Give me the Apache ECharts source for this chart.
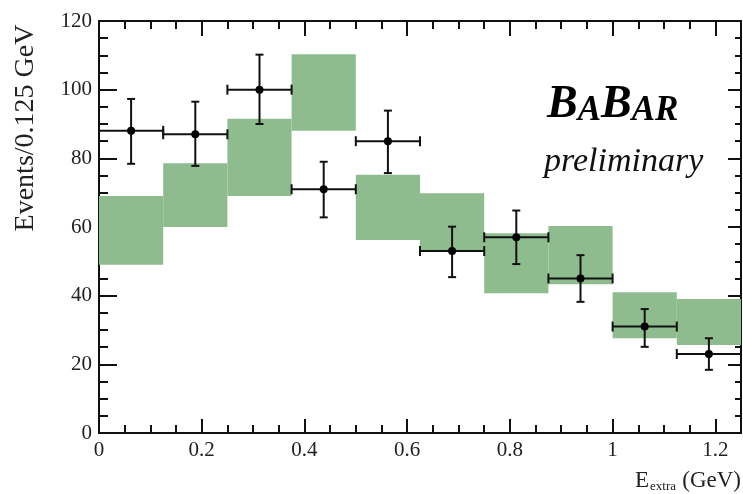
<!DOCTYPE html>
<html>
<head>
<meta charset="utf-8">
<script src="https://cdn.jsdelivr.net/npm/echarts@6/dist/echarts.min.js"></script>
<style>
  html, body { margin: 0; padding: 0; background: #fff; }
  #chart { width: 743px; height: 494px; }
</style>
</head>
<body>
<div id="chart"></div>
<script>
// bins of 0.125 GeV
const binLo = [0, 0.125, 0.25, 0.375, 0.5, 0.625, 0.75, 0.875, 1.0, 1.125];
const binHi = [0.125, 0.25, 0.375, 0.5, 0.625, 0.75, 0.875, 1.0, 1.125, 1.25];
// green band (expected background, min/max)
const bandLow = [49, 60, 69, 88, 56.2, 52.8, 40.7, 43.3, 27.6, 25.6];
const bandHigh = [69, 78.6, 91.5, 110.3, 75.2, 69.8, 58.2, 60.3, 41, 39];
// data points with errors
const pointY = [88, 87, 100, 71, 85, 53, 57, 45, 31, 23];
const errLow = [78.4, 77.8, 90, 62.8, 75.7, 45.4, 49.2, 38.2, 25.1, 18.4];
const errHigh = [97.3, 96.5, 110.2, 79, 93.9, 60.1, 64.8, 51.8, 36.1, 27.6];
const xTicks = ['0', '0.2', '0.4', '0.6', '0.8', '1', '1.2'];

const FONT = 'Liberation Serif';
const bandColor = '#8fbc8f';

const chart = echarts.init(document.getElementById('chart'));

const bandData = binLo.map((lo, i) => [lo, binHi[i], bandLow[i], bandHigh[i]]);
const pointData = binLo.map((lo, i) => [(lo + binHi[i]) / 2, pointY[i], errLow[i], errHigh[i], lo, binHi[i]]);

function renderBand(params, api) {
  const a = api.coord([api.value(0), api.value(3)]);
  const b = api.coord([api.value(1), api.value(2)]);
  return {
    type: 'rect',
    shape: { x: a[0], y: a[1], width: b[0] - a[0], height: b[1] - a[1] },
    style: { fill: bandColor },
  };
}

function renderPoint(params, api) {
  const c = api.coord([api.value(0), api.value(1)]);
  const top = api.coord([api.value(0), api.value(3)]);
  const bot = api.coord([api.value(0), api.value(2)]);
  const l = api.coord([api.value(4), api.value(1)]);
  const r = api.coord([api.value(5), api.value(1)]);
  const st = { stroke: '#111', lineWidth: 2 };
  const line = (x1, y1, x2, y2) => ({ type: 'line', shape: { x1, y1, x2, y2 }, style: st });
  return {
    type: 'group',
    children: [
      line(l[0], c[1], r[0], c[1]),
      line(c[0], top[1], c[0], bot[1]),
      line(l[0], c[1] - 5, l[0], c[1] + 5),
      line(r[0], c[1] - 5, r[0], c[1] + 5),
      line(c[0] - 4, top[1], c[0] + 4, top[1]),
      line(c[0] - 4, bot[1], c[0] + 4, bot[1]),
      { type: 'circle', shape: { cx: c[0], cy: c[1], r: 4 }, style: { fill: '#000' } },
    ],
  };
}

// onZero off, otherwise the mirror axes jump to the zero of the other axis
const axisLineStyle = { show: true, onZero: false, lineStyle: { color: '#111', width: 2 } };
const tickStyle = { color: '#111', width: 2 };

function xAxisDef(position, interval, len, labels) {
  return {
    type: 'value',
    position: position,
    min: 0,
    max: 1.25,
    interval: interval,
    axisLine: interval === 0.2 ? axisLineStyle : { show: false, onZero: false },
    axisTick: { show: true, inside: true, length: len, lineStyle: tickStyle },
    axisLabel: labels ? {
      show: true,
      margin: 7,
      showMaxLabel: false,
      color: '#222',
      fontFamily: FONT,
      fontSize: 21,
      formatter: (v) => xTicks[Math.round(v / 0.2)] || '',
    } : { show: false },
    splitLine: { show: false },
  };
}

function yAxisDef(position, labels) {
  return {
    type: 'value',
    position: position,
    min: 0,
    max: 120,
    interval: 20,
    axisLine: axisLineStyle,
    axisTick: { show: true, inside: true, length: position === 'left' ? 18 : 13, lineStyle: tickStyle },
    minorTick: { show: true, splitNumber: 4, length: position === 'left' ? 9 : 6, lineStyle: tickStyle },
    axisLabel: labels ? {
      show: true,
      margin: 7,
      color: '#222',
      fontFamily: FONT,
      fontSize: 21,
    } : { show: false },
    splitLine: { show: false },
  };
}

const option = {
  backgroundColor: '#fff',
  animation: false,
  grid: { left: 99, right: 2, top: 21, bottom: 61, containLabel: false, outerBoundsMode: 'none' },
  xAxis: [
    xAxisDef('bottom', 0.2, 14, true),
    xAxisDef('bottom', 0.05, 8, false),
    xAxisDef('top', 0.2, 15, false),
    xAxisDef('top', 0.05, 8, false),
  ],
  yAxis: [
    yAxisDef('left', true),
    yAxisDef('right', false),
  ],
  series: [
    {
      type: 'custom',
      xAxisIndex: 0,
      yAxisIndex: 0,
      renderItem: renderBand,
      encode: { x: [0, 1], y: [2, 3] },
      data: bandData,
      z: 2,
    },
    {
      type: 'custom',
      xAxisIndex: 0,
      yAxisIndex: 0,
      renderItem: renderPoint,
      encode: { x: [0, 4, 5], y: [1, 2, 3] },
      data: pointData,
      z: 3,
    },
  ],
  graphic: [
    {
      type: 'text',
      x: 26,
      y: 128,
      rotation: Math.PI / 2,
      style: {
        text: 'Events/0.125 GeV',
        font: '28px "Liberation Serif"',
        fill: '#222',
        align: 'center',
        verticalAlign: 'middle',
      },
    },
    {
      type: 'text',
      x: 741,
      y: 481,
      style: { text: '(GeV)', font: '23px "Liberation Serif"', fill: '#222', align: 'right', verticalAlign: 'middle' },
    },
    {
      type: 'text',
      x: 676,
      y: 487,
      style: { text: 'extra', font: '13px "Liberation Serif"', fill: '#222', align: 'right', verticalAlign: 'middle' },
    },
    {
      type: 'text',
      x: 649,
      y: 481,
      style: { text: 'E', font: '23px "Liberation Serif"', fill: '#222', align: 'right', verticalAlign: 'middle' },
    },
    {
      type: 'text',
      x: 547,
      y: 128,
      style: {
        text: '{b|B}{s|A}{b|B}{s|AR}',
        fill: '#000',
        align: 'left',
        verticalAlign: 'bottom',
        rich: {
          b: { fontFamily: FONT, fontStyle: 'italic', fontWeight: 'bold', fontSize: 46, verticalAlign: 'bottom', fill: '#000' },
          s: { fontFamily: FONT, fontStyle: 'italic', fontWeight: 'bold', fontSize: 35, verticalAlign: 'bottom', fill: '#000' },
        },
      },
    },
    {
      type: 'text',
      x: 544,
      y: 162,
      style: {
        text: 'preliminary',
        font: 'italic 34px "Liberation Serif"',
        fill: '#111',
        align: 'left',
        verticalAlign: 'middle',
      },
    },
  ],
};

chart.setOption(option);
</script>
</body>
</html>
